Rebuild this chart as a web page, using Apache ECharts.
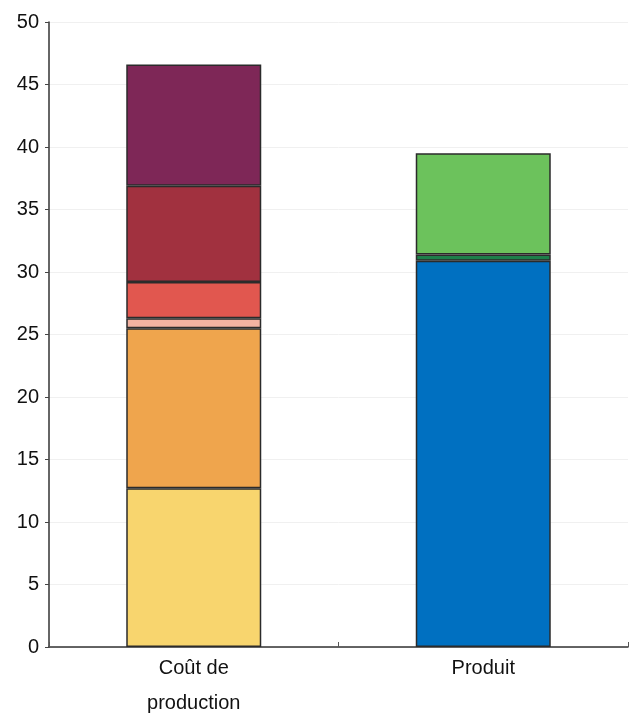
<!DOCTYPE html>
<html>
<head>
<meta charset="utf-8">
<script src="https://cdn.jsdelivr.net/npm/echarts@6/dist/echarts.min.js"></script>
<style>
html,body{margin:0;padding:0;background:#fff;}
#c{width:634px;height:717px;}
</style>
</head>
<body>
<div id="c"></div>
<script>
var categories = ['Coût de\nproduction', 'Produit'];
var yTicks = [0, 5, 10, 15, 20, 25, 30, 35, 40, 45, 50];
// Segment heights (bottom to top) for "Coût de production"
var coutSegments = [12.7, 12.8, 0.8, 2.9, 7.7, 9.7];
var coutColors = ['#F8D56E', '#EFA54D', '#F3B3A2', '#E1574F', '#A1313F', '#7E2757'];
// Segment heights (bottom to top) for "Produit"
var produitSegments = [30.9, 0.5, 8.1];
var produitColors = ['#0070C1', '#1D7F4A', '#6CC25C'];

var series = [];
coutSegments.forEach(function (v, i) {
  series.push({
    type: 'bar', stack: 'total', barWidth: 135,
    data: [v, '-'],
    itemStyle: { color: coutColors[i], borderColor: '#2b2b2b', borderWidth: 1.5 }
  });
});
produitSegments.forEach(function (v, i) {
  series.push({
    type: 'bar', stack: 'total', barWidth: 135,
    data: ['-', v],
    itemStyle: { color: produitColors[i], borderColor: '#2b2b2b', borderWidth: 1.5 }
  });
});

var chart = echarts.init(document.getElementById('c'), null, { renderer: 'canvas' });
chart.setOption({
  animation: false,
  backgroundColor: '#ffffff',
  grid: { left: 49, right: 6, top: 22, bottom: 70, containLabel: false, outerBoundsMode: 'none' },
  xAxis: {
    type: 'category',
    data: categories,
    axisLine: { show: true, lineStyle: { color: '#333', width: 1.5 } },
    axisTick: { show: true, alignWithLabel: false, length: 5, inside: true, lineStyle: { color: '#555' } },
    axisLabel: { color: '#111', fontFamily: 'Liberation Sans, Arial, sans-serif', fontSize: 20, lineHeight: 35, margin: 4 }
  },
  yAxis: {
    type: 'value',
    min: yTicks[0], max: yTicks[yTicks.length - 1], interval: 5,
    axisLine: { show: true, lineStyle: { color: '#333', width: 1.5 } },
    axisTick: { show: true, length: 4, lineStyle: { color: '#444' } },
    axisLabel: { color: '#111', fontFamily: 'Liberation Sans, Arial, sans-serif', fontSize: 20, margin: 10 },
    splitLine: { show: true, lineStyle: { color: '#f0f0f0', width: 1 } }
  },
  series: series
});
</script>
</body>
</html>
